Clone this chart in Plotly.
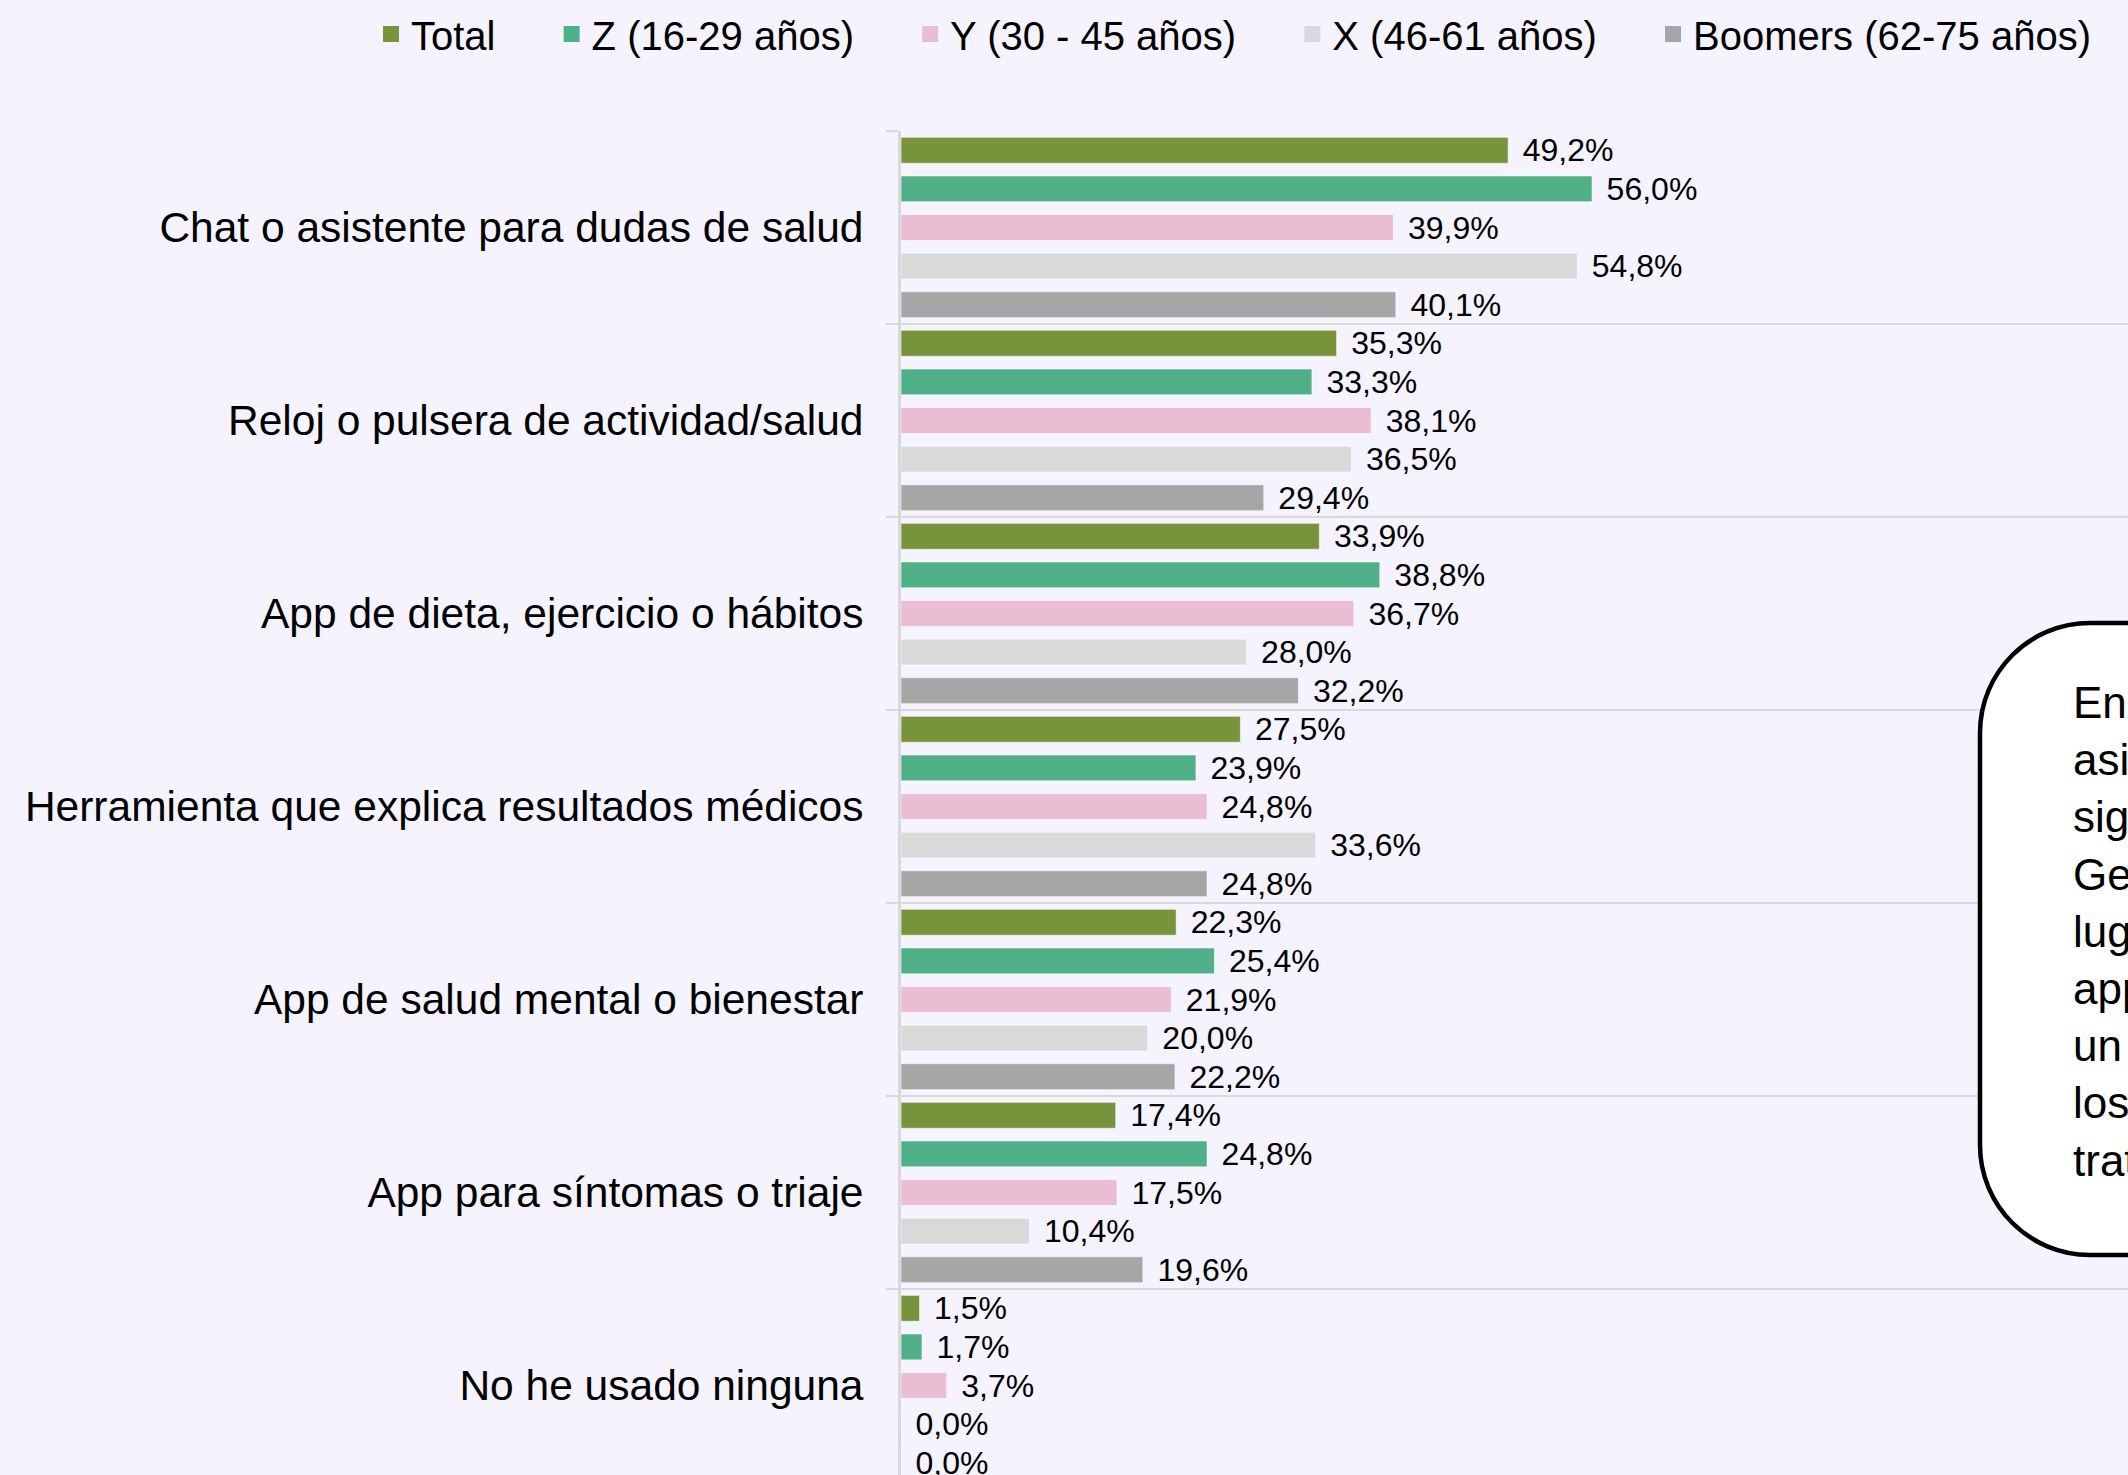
import plotly.graph_objects as go

# ---------------- data ----------------
categories = [
    "Chat o asistente para dudas de salud",
    "Reloj o pulsera de actividad/salud",
    "App de dieta, ejercicio o hábitos",
    "Herramienta que explica resultados médicos",
    "App de salud mental o bienestar",
    "App para síntomas o triaje",
    "No he usado ninguna",
]
series_names = ["Total", "Z (16-29 años)", "Y (30 - 45 años)", "X (46-61 años)", "Boomers (62-75 años)"]
total = [49.2, 35.3, 33.9, 27.5, 22.3, 17.4, 1.5]
gen_z = [56.0, 33.3, 38.8, 23.9, 25.4, 24.8, 1.7]
gen_y = [39.9, 38.1, 36.7, 24.8, 21.9, 17.5, 3.7]
gen_x = [54.8, 36.5, 28.0, 33.6, 20.0, 10.4, 0.0]
boomers = [40.1, 29.4, 32.2, 24.8, 22.2, 19.6, 0.0]
series_values = [total, gen_z, gen_y, gen_x, boomers]
colors = ["#77933C", "#50B088", "#EBBDD3", "#D9D9D9", "#A6A6A6"]

note_lines = [
    "En todas las generaciones, el chat o",
    "asistente de salud lidera, y le",
    "siguen los relojes o pulseras. La",
    "Generación Z ocupa el primer",
    "lugar en el uso de apps de dieta,",
    "apps de síntomas y de salud mental,",
    "un reflejo de su mayor interés por",
    "los servicios digitales y los",
    "tratamientos personalizados.",
]

# ---------------- layout geometry ----------------
W, H = 2128, 1475
L, T, R, B = 901, 131, 0, 0
PW, PH = W - L - R, H - T - B
PX_PER_UNIT = 12.34          # horizontal pixels per percentage point
CAT_PX = 193.0               # vertical pixels per category

def px_x(px):
    return (px - L) / PW

def px_y(py):
    return (H - B - py) / PH

BG = "#F5F3FE"
FONT = "Liberation Sans, Arial, sans-serif"
PAD = "\u00a0" * 4 + "\u2006"

fig = go.Figure()
for name, vals, col in zip(series_names, series_values, colors):
    fig.add_trace(go.Bar(
        y=categories, x=vals, name=name, orientation="h", showlegend=False,
        marker=dict(color=col, line=dict(color="rgba(255,255,255,0.55)", width=1)),
        texttemplate="\u00a0\u200a%{x:.1f}%", textposition="outside",
        textfont=dict(family=FONT, size=32, color="#000000"),
        constraintext="none", cliponaxis=False,
        hoverinfo="skip",
    ))
# legend entries (square swatches)
for i, (name, col) in enumerate(zip(series_names, colors)):
    label = name if i == len(series_names) - 1 else name + PAD
    fig.add_trace(go.Scatter(
        x=[None], y=[None], mode="markers", name=label,
        marker=dict(symbol="square", size=16, color=col),
        showlegend=True, hoverinfo="skip",
    ))

# rounded annotation box (partly outside the page on the right)
x0, x1 = px_x(1980), px_x(2700)
y0, y1 = px_y(1255), px_y(623)
rx, ry = 110 / PW, 110 / PH
k = 0.5523
path = (
    f"M{x0 + rx},{y1} L{x1 - rx},{y1} "
    f"C{x1 - rx + k * rx},{y1} {x1},{y1 - ry + k * ry} {x1},{y1 - ry} "
    f"L{x1},{y0 + ry} "
    f"C{x1},{y0 + ry - k * ry} {x1 - rx + k * rx},{y0} {x1 - rx},{y0} "
    f"L{x0 + rx},{y0} "
    f"C{x0 + rx - k * rx},{y0} {x0},{y0 + ry - k * ry} {x0},{y0 + ry} "
    f"L{x0},{y1 - ry} "
    f"C{x0},{y1 - ry + k * ry} {x0 + rx - k * rx},{y1} {x0 + rx},{y1} Z"
)
fig.add_shape(type="path", path=path, xref="paper", yref="paper",
              fillcolor="#FFFFFF", line=dict(color="#000000", width=4.5), layer="above")
fig.add_annotation(
    text="<br>".join(note_lines), xref="paper", yref="paper",
    x=px_x(2071), y=px_y(676), xanchor="left", yanchor="top", align="left",
    showarrow=False, font=dict(family=FONT, size=44, color="#000000"),
)

fig.update_layout(
    width=W, height=H,
    margin=dict(l=L, r=R, t=T, b=B, pad=0),
    paper_bgcolor=BG, plot_bgcolor=BG,
    separators=",.",
    barmode="group", bargap=0.0, bargroupgap=0.33,
    showlegend=True,
    legend=dict(
        orientation="h", x=px_x(371), xanchor="left", y=px_y(34), yanchor="middle",
        font=dict(family=FONT, size=40, color="#000000"),
        bgcolor="rgba(0,0,0,0)", traceorder="normal", itemclick=False,
    ),
    xaxis=dict(
        range=[0, PW / PX_PER_UNIT], showgrid=False, zeroline=False,
        showticklabels=False, showline=False, ticks="", fixedrange=True,
    ),
    yaxis=dict(
        type="category", categoryorder="array", categoryarray=categories,
        range=[-0.5 + PH / CAT_PX, -0.5],
        tickson="boundaries", ticks="outside", ticklen=12, tickwidth=2,
        tickcolor="#D9D9D9",
        showgrid=True, gridcolor="#D9D9D9", gridwidth=2,
        showline=True, linecolor="#D9D9D9", linewidth=3,
        tickfont=dict(family=FONT, size=42.5, color="#000000"),
        ticklabelstandoff=26, automargin=False, fixedrange=True,
    ),
    font=dict(family=FONT),
)

fig.write_html(
    "out.html",
    config={"displayModeBar": False},
    post_script="document.body.style.margin='0';document.body.style.overflow='hidden';",
)
